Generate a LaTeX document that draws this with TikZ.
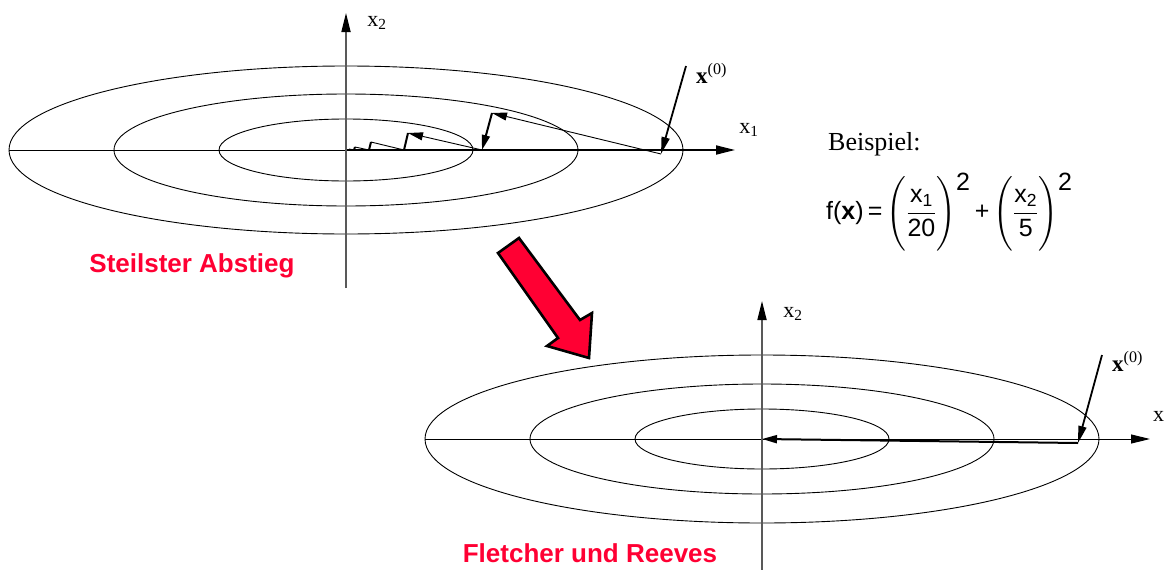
\documentclass[tikz,border=0pt]{standalone}
\usepackage{amsmath}
\usepackage{fontspec}
\setmainfont{Liberation Serif}
\setsansfont{Liberation Sans}
\usetikzlibrary{arrows.meta}
\definecolor{signalred}{RGB}{255,0,51}
\newcommand{\parstrut}{\rule[-30pt]{0pt}{68pt}}
\newcommand{\sqr}{\raisebox{-8pt}{\mbox{2}}}

\begin{document}
\begin{tikzpicture}[
    x=1pt, y=-1pt,
    contour/.style={line width=0.9pt},
    axisthin/.style={line width=1pt},
    axis/.style={line width=1pt, -{Triangle[length=19pt,width=9pt]}},
    vaxis/.style={line width=1.7pt, draw=black!65, -{Triangle[length=19pt,width=9pt,color=black]}},
    thinstep/.style={line width=0.9pt, -{Triangle[length=15pt,width=8pt]}},
    thickstep/.style={line width=2pt, -{Triangle[length=15pt,width=8pt]}},
    smallstep/.style={line width=0.9pt},
    boldstep/.style={line width=2pt},
    pointer/.style={line width=1.8pt, -{Triangle[length=17pt,width=8pt]}},
    lbl/.style={inner sep=0pt, font=\fontsize{22}{24}\selectfont},
    redlbl/.style={inner sep=0pt, text=signalred, font=\sffamily\bfseries\fontsize{26}{28}\selectfont},
    bigarrow/.style={fill=signalred, draw=black, line width=2.6pt, line join=miter}
]
    \useasboundingbox (0,0) rectangle (1165,570);

    % --- Steilster Abstieg (oben) ---
    \coordinate (o1) at (346,150);
    \coordinate (xl1) at (9,150);
    \coordinate (xr1) at (735,150);
    \coordinate (yb1) at (346,288);
    \coordinate (yt1) at (346,13);

    \draw[contour] (o1) ellipse [x radius=337pt, y radius=84pt];
    \draw[contour] (o1) ellipse [x radius=232pt, y radius=56pt];
    \draw[contour] (o1) ellipse [x radius=127pt, y radius=31pt];

    \draw[axisthin] (xl1) -- (o1);
    \draw[axis, line width=1.8pt] (o1) -- (xr1);
    \draw[vaxis] (yb1) -- (yt1);
    \node[lbl] (x1a) at (749,130) {x\textsubscript{1}};
    \node[lbl] (x2a) at (377,23) {x\textsubscript{2}};

    \coordinate (s0) at (661,154);
    \coordinate (s1) at (492,113);
    \coordinate (s2) at (482,150);
    \coordinate (s3) at (408,133);
    \coordinate (s4) at (404,150);
    \coordinate (s5) at (371,142);
    \coordinate (s6) at (369,150);
    \coordinate (s7) at (355,147);
    \coordinate (s8) at (354,150);
    \coordinate (s9) at (349,149);

    \draw[thinstep] (s0) -- (s1);
    \draw[thickstep] (s1) -- (s2);
    \draw[thinstep] (s2) -- (s3);
    \draw[boldstep] (s3) -- (s4);
    \draw[smallstep] (s4) -- (s5);
    \draw[boldstep] (s5) -- (s6);
    \draw[smallstep] (s6) -- (s7);
    \draw[boldstep] (s7) -- (s8);
    \draw[smallstep] (s8) -- (s9);

    \coordinate (q1) at (686,66);
    \draw[pointer] (q1) -- (s0);
    \node[lbl, anchor=west, font=\fontsize{23}{25}\selectfont] (start1) at (696,73) {\textbf{x}\textsuperscript{(0)}};

    \node[redlbl] (sd) at (192,266) {Steilster Abstieg};

    % --- Beispiel ---
    \node[lbl, anchor=west, font=\fontsize{26}{28}\selectfont] (bsp) at (828,144) {Beispiel:};
    \node[inner sep=0pt, anchor=west, font=\sffamily\fontsize{25}{29}\selectfont] (fx) at (826,212)
        {f(\textbf{x})\,=\,$\left(\parstrut\dfrac{\textsf{x}_{\textsf{1}}}{\textsf{20}}\right)^{\sqr}$\,+\,$\left(\parstrut\dfrac{\textsf{x}_{\textsf{2}}}{\textsf{5}}\right)^{\sqr}$};

    % --- Pfeil ---
    \coordinate (a1) at (498,253);
    \coordinate (a2) at (519,238);
    \coordinate (a3) at (580,320);
    \coordinate (a4) at (592,313);
    \coordinate (a5) at (589,358);
    \coordinate (a6) at (547,346);
    \coordinate (a7) at (558,338);
    \draw[bigarrow] (a1) -- (a2) -- (a3) -- (a4) -- (a5) -- (a6) -- (a7) -- cycle;

    % --- Fletcher und Reeves (unten) ---
    \coordinate (o2) at (762,439);
    \coordinate (xl2) at (425,439);
    \coordinate (xr2) at (1150,439);
    \coordinate (yb2) at (762,572);
    \coordinate (yt2) at (762,301);

    \draw[contour] (o2) ellipse [x radius=337pt, y radius=84pt];
    \draw[contour] (o2) ellipse [x radius=232pt, y radius=55pt];
    \draw[contour] (o2) ellipse [x radius=127pt, y radius=30pt];

    \draw[axis] (xl2) -- (xr2);
    \draw[vaxis] (yb2) -- (yt2);
    \node[lbl, anchor=west] (x1b) at (1153,418) {x\textsubscript{1}};
    \node[lbl] (x2b) at (793,314) {x\textsubscript{2}};

    \coordinate (t0) at (1078,443);
    \draw[thickstep] (t0) -- (o2);

    \coordinate (q2) at (1102,355);
    \draw[pointer] (q2) -- (t0);
    \node[lbl, anchor=west, font=\fontsize{23}{25}\selectfont] (start2) at (1112,361) {\textbf{x}\textsuperscript{(0)}};

    \node[redlbl] (fr) at (590,553) {Fletcher und Reeves};
\end{tikzpicture}
\end{document}
